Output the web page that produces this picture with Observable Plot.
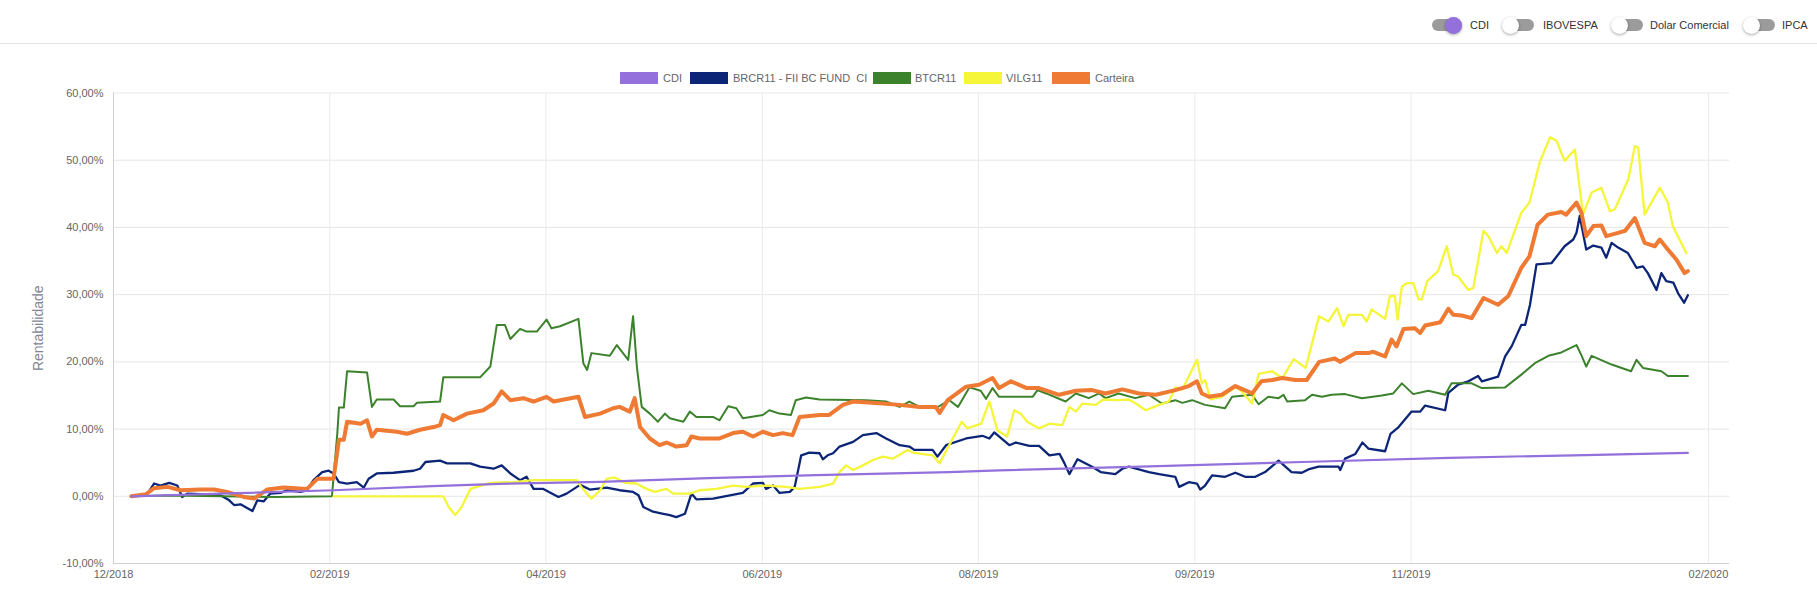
<!DOCTYPE html>
<html><head><meta charset="utf-8">
<script src="https://cdn.jsdelivr.net/npm/d3@7"></script>
<script src="https://cdn.jsdelivr.net/npm/@observablehq/plot@0.6"></script>
<style>
body{margin:0;background:#fff;font-family:"Liberation Sans",Arial,sans-serif;}
#wrap{position:relative;width:1817px;height:597px;overflow:hidden;}
#chart{position:absolute;left:0;top:0;}
.topbar{position:absolute;left:0;top:0;width:1817px;height:43px;border-bottom:1px solid #e4e4e4;}
.tg{position:absolute;top:19px;width:30px;height:12px;border-radius:6px;background:#9b9b9b;}
.knob{position:absolute;top:-2.5px;width:17px;height:17px;border-radius:50%;background:#fff;box-shadow:0 1px 3px rgba(0,0,0,0.35);}
.tl{position:absolute;top:19px;font-size:11px;line-height:12px;color:#333;}
.sw{position:absolute;top:72px;width:38px;height:12px;}
.lt{position:absolute;top:72px;font-size:11px;line-height:12px;color:#666;white-space:pre;}
</style>
</head><body>
<div id="wrap">
  <div id="chart"></div>
  <div class="topbar">
    <div class="tg" style="left:1432px"><div class="knob" style="left:12.5px;background:#9370db"></div></div>
    <div class="tl" style="left:1470px">CDI</div>
    <div class="tg" style="left:1504px"><div class="knob" style="left:-2px"></div></div>
    <div class="tl" style="left:1543px">IBOVESPA</div>
    <div class="tg" style="left:1613px"><div class="knob" style="left:-2px"></div></div>
    <div class="tl" style="left:1650px">Dolar Comercial</div>
    <div class="tg" style="left:1745px"><div class="knob" style="left:-2px"></div></div>
    <div class="tl" style="left:1782px">IPCA</div>
  </div>
  <div id="legend"></div>
</div>
<script>
// x = trading-day index, y = rentabilidade (%)
const cdi = [[3.3,0],[20,0.4],[40.7,0.9],[59,1.5],[71.5,1.85],[90,2.15],[110,2.7],[130,3.15],[154.6,3.6],[163.8,3.85],[190,4.4],[220,5.1],[247,5.72],[270,6.1],[291.2,6.45]];
const brcr11 = [[3.3,0],[6.3,0.4],[7.5,1.9],[8.7,1.6],[10.3,2.0],[11.8,1.6],[12.7,-0.1],[13.7,0.4],[16.1,0.3],[19.8,0.15],[21.4,-0.6],[22.3,-1.3],[23.5,-1.2],[25.7,-2.2],[26.6,-0.6],[27.8,-0.75],[29,0.4],[30.9,0.5],[32.1,0.9],[34.6,0.65],[35.8,0.9],[37,2.4],[38.6,3.6],[39.8,3.8],[40.7,3.4],[41.7,2.1],[43.2,1.9],[45,2.1],[46.3,1.3],[47.2,2.6],[48.7,3.4],[51.8,3.5],[55.5,3.8],[56.7,4.1],[57.7,5.1],[60.4,5.3],[61.7,4.9],[66,4.9],[67.8,4.4],[70.3,4.1],[71.8,4.6],[73.4,3.4],[75.2,2.4],[76.4,2.9],[77.7,1.1],[79.5,1.1],[82.3,-0.1],[83.8,0.4],[86.3,1.7],[88.1,1.0],[91.2,1.3],[93.6,0.9],[96.1,0.65],[97.1,0.15],[98,-1.6],[99.8,-2.3],[101.7,-2.6],[102.9,-2.8],[104.1,-3.1],[105.7,-2.6],[106.9,0.4],[107.8,-0.45],[110.9,-0.35],[114,0.15],[116.4,0.5],[118.3,1.9],[120.1,2.0],[120.7,1.1],[122,1.6],[123.2,0.5],[125.1,0.65],[126,1.4],[127.2,6.1],[128.7,6.5],[130.6,6.4],[131.2,5.5],[132.1,6.1],[133.1,6.4],[134.3,7.4],[136.8,8.1],[138.6,9.1],[141.1,9.4],[142.9,8.6],[145.4,7.6],[147.2,7.4],[148.1,6.9],[151.5,6.9],[152.4,5.9],[154,7.6],[157.7,8.6],[160.7,9.0],[162,8.6],[162.9,9.5],[165.7,7.6],[166.9,8.0],[169.4,7.5],[171.2,7.5],[173.1,6.1],[175,6.3],[175.9,4.9],[176.8,3.3],[178.3,5.5],[181,4.4],[182.6,3.6],[185.3,3.3],[186.6,4.1],[187.8,4.4],[191.5,3.6],[193.4,3.3],[196.4,2.9],[197.1,1.4],[198.9,2.1],[200.4,1.9],[201,1.0],[201.9,1.6],[203.2,3.1],[205.6,2.9],[207.5,3.5],[209.3,2.9],[211.2,2.9],[213,3.6],[215.5,5.3],[217.9,3.6],[219.8,3.5],[221,4.0],[222.9,4.4],[226.6,4.4],[226.9,3.9],[227.8,5.6],[229.7,6.3],[231,8.0],[232.1,7.1],[235.2,6.7],[236.2,9.3],[237.7,10.3],[240.1,12.6],[241.7,12.6],[242.6,13.5],[246.3,12.8],[246.9,15.4],[248.7,16.6],[250.6,17.1],[252.4,17.9],[253.1,17.1],[256.1,17.8],[257.4,20.8],[258.6,22.3],[260.4,25.5],[261.1,25.5],[262,28.5],[263.2,34.5],[266,34.7],[268.4,37.2],[270,38.2],[270.6,39.2],[271.2,41.7],[272.4,36.7],[273.7,37.3],[275.2,37.0],[276.1,35.5],[277.1,37.7],[278.3,37.0],[280.1,36.2],[281.7,34.0],[282.9,34.2],[283.8,33.2],[285.4,30.7],[286.3,33.2],[287.2,32.0],[288.5,31.8],[289.4,30.2],[290.5,28.8],[291.2,29.9]];
const btcr11 = [[3.3,0],[10,0.1],[20,0],[30,-0.1],[40.4,0],[41.4,9.4],[41.7,13.2],[42.6,13.2],[43.2,18.6],[46.9,18.4],[47.8,13.3],[48.7,14.4],[51.8,14.4],[53,13.4],[55.5,13.4],[56.1,13.9],[60.4,14.1],[61,17.7],[67.8,17.7],[69.7,19.3],[70.9,25.5],[72.4,25.5],[73.4,23.4],[75.2,24.9],[76.4,24.5],[78.3,24.5],[80.1,26.3],[81,25.0],[82.6,25.3],[86,26.4],[86.9,19.8],[87.6,18.8],[88.4,21.3],[91.8,20.9],[93.1,22.5],[95.2,20.3],[96.1,26.8],[96.8,19.3],[97.7,13.3],[99.2,12.3],[100.7,11.1],[102,12.3],[102.9,11.6],[105.4,11.1],[106.6,12.6],[107.8,11.8],[110.9,11.8],[112.1,11.3],[113.7,13.4],[115.2,13.1],[116.4,11.6],[120.1,12.1],[121.3,12.8],[123.2,12.3],[125.3,12.1],[126.2,14.3],[128.1,14.7],[130.6,14.4],[139.2,14.3],[142.9,14.1],[145.4,13.3],[147.2,14.1],[149.1,13.3],[152.1,13.1],[154.6,14.3],[156.2,13.3],[158.3,16.2],[160.4,15.7],[161.4,14.5],[162.6,16.1],[163.8,14.8],[170,14.8],[170.9,15.8],[172.5,15.3],[176.1,14.1],[178,15.3],[180.4,14.6],[182.3,15.3],[183.5,14.6],[185.9,15.3],[189,14.6],[191.5,15.1],[193.9,13.8],[196.4,14.3],[197.7,13.9],[199.5,14.3],[201.9,13.6],[205.6,13.1],[206.9,14.8],[210.6,15.1],[211.8,13.7],[213.6,14.8],[215.5,14.6],[216.4,15.1],[217.1,14.1],[220.4,14.3],[221.7,15.1],[223.5,14.8],[225.3,15.1],[227.8,15.2],[230.9,14.6],[234.6,15.0],[236.7,15.3],[238.3,16.8],[240.4,15.2],[243.2,15.7],[246.3,15.1],[247.5,16.8],[251.2,16.8],[253.1,16.1],[257.4,16.2],[260.4,18.1],[262.9,19.8],[265.4,20.9],[267.8,21.4],[270.6,22.5],[271.5,21.0],[272.4,19.3],[273.4,20.9],[277.1,19.6],[280.7,18.6],[281.7,20.3],[282.9,19.1],[286.3,18.6],[287.5,17.9],[291.2,17.9]];
const vilg11 = [[40.7,0],[61,0],[62,-1.6],[63.2,-2.8],[64.4,-1.6],[66,1.1],[69.7,2.0],[74,2.1],[77.7,2.4],[85.7,2.4],[86.6,1.3],[88.4,-0.35],[90,0.9],[91.2,2.6],[92.7,2.8],[94.6,2.0],[96.7,1.9],[98.6,1.1],[100.1,0.65],[102.3,1.1],[103.5,0.4],[106.6,0.4],[108.4,0.9],[111.5,1.1],[114.6,1.6],[117,1.4],[120.7,1.6],[124.4,1.4],[126.9,1.1],[130.6,1.4],[133.1,1.9],[134.3,3.6],[135.5,4.6],[136.8,3.9],[138.6,4.6],[140.5,5.4],[142.3,5.9],[144.1,5.6],[146.9,6.9],[147.8,6.5],[151.5,6.1],[152.8,4.9],[154.5,7.5],[156.9,11.1],[157.9,10.1],[160.5,10.8],[162,14.1],[163.5,9.8],[165.3,8.9],[166.6,12.8],[167.8,12.3],[169,11.1],[171.2,10.1],[173.1,10.8],[175.5,10.6],[176.8,13.3],[178,12.6],[179.2,13.8],[181.7,13.6],[183,14.4],[186,14.3],[187.8,14.4],[189.1,13.8],[190.9,12.8],[193.4,13.6],[195.2,14.1],[196.4,16.2],[197.7,15.9],[200.4,20.3],[201.3,16.8],[201.9,17.3],[202.9,14.4],[205,14.8],[207.5,16.3],[208.7,15.6],[210.6,13.8],[211.8,18.2],[214.3,18.6],[216.2,17.6],[218.3,20.4],[220.5,19.1],[223,26.8],[224.7,26.0],[226.3,28.0],[227.5,25.3],[228.4,27.0],[230.9,27.0],[231.8,26.0],[232.7,27.8],[235.2,26.4],[236.1,29.8],[237,29.8],[237.5,26.3],[238.3,31.2],[239.2,31.7],[240.4,31.7],[241.4,29.3],[242,29.3],[243,32.0],[245,33.5],[246.6,37.2],[247.8,33.0],[248.7,32.7],[250.6,30.7],[251.5,31.0],[253.4,39.5],[254.3,38.7],[255.9,36.2],[256.7,37.2],[257.7,36.2],[260.4,42.2],[261.9,43.7],[263.8,49.7],[265.7,53.4],[266.9,52.9],[268.4,49.9],[270.3,51.6],[271.8,41.9],[273.4,45.2],[275.2,45.9],[276.8,42.4],[277.7,42.7],[280.2,47.2],[281.4,52.1],[282,51.9],[283.2,41.9],[286,45.9],[287.5,43.7],[288.4,40.2],[290.9,36.2]];
const carteira = [[3.3,0],[6,0.3],[7.5,1.2],[10,1.4],[12.4,0.9],[16.1,1.0],[18.6,1.0],[21,0.65],[24.1,-0.1],[26,-0.35],[28.4,1.0],[31.5,1.3],[35.8,1.1],[37.7,2.6],[40.7,2.6],[41.7,8.4],[42.6,8.4],[43.2,11.1],[45.7,10.8],[46.9,11.3],[47.8,8.9],[48.7,9.9],[52.4,9.6],[54.3,9.3],[56.7,9.9],[59.2,10.3],[60.4,10.6],[61,12.1],[62.9,11.3],[65.4,12.3],[68.4,12.8],[70.3,13.8],[71.8,15.6],[73.4,14.3],[75.8,14.6],[77.7,14.1],[80.1,14.8],[81.4,14.1],[86,14.8],[87.2,11.8],[90,12.3],[92.4,13.1],[93.6,13.3],[95.5,12.6],[96.4,14.6],[97.4,10.3],[99.2,8.6],[101,7.6],[102.3,8.0],[104.1,7.4],[106,7.6],[106.9,8.9],[108.4,8.6],[112.1,8.6],[114.6,9.4],[116.4,9.6],[118.3,8.9],[120.1,9.6],[122,9.1],[123.8,9.4],[125.6,9.1],[126.9,11.8],[130.6,12.1],[132.4,12.1],[134.9,13.6],[136.8,14.1],[142.3,13.8],[145.4,13.6],[149.1,13.3],[152.1,13.3],[152.8,12.4],[154.3,14.3],[157.7,16.3],[160.1,16.6],[162.6,17.6],[163.8,16.1],[166,17.1],[168.9,16.1],[171.2,16.1],[174.9,15.1],[178,15.7],[181,15.8],[183.5,15.3],[186.6,15.9],[189.7,15.3],[192.8,15.1],[196.4,15.8],[198.9,16.4],[200.4,17.1],[201.3,15.3],[202.6,14.8],[205,15.1],[207.5,16.4],[210.6,15.3],[212.3,17.1],[214.3,17.3],[216.2,17.6],[218.6,17.3],[220.7,17.3],[223,20.0],[224.7,20.3],[225.9,20.5],[226.9,20.0],[229.7,21.3],[232.1,21.3],[233,21.5],[235.2,20.8],[236.4,23.3],[237.3,22.3],[238.6,24.9],[240.7,25.0],[241.7,24.3],[242.6,25.4],[245.4,25.9],[246.9,27.9],[247.8,27.0],[249.4,26.9],[251.2,26.5],[253.4,29.5],[256.1,28.5],[258,29.8],[260.4,34.0],[261.9,35.7],[263.4,40.4],[265.3,41.9],[267.8,42.3],[268.7,41.9],[270.6,43.7],[271.5,42.2],[272.4,38.7],[273.7,40.2],[275.2,40.3],[276.1,38.7],[278.3,39.2],[279.6,39.5],[281.4,41.4],[283.2,37.7],[285.1,37.2],[286,38.2],[287.2,37.0],[289.1,35.2],[290.6,33.2],[291.2,33.5]];

const seriesNames = ["CDI","BRCR11 - FII BC FUND  CI","BTCR11","VILG11","Carteira"];
const seriesColors = ["#9370db","#0c2577","#3c822c","#f5f53a","#ee7a33"];
const xTickPos = [0,40,80,120,160,200,240,295];
const xTickLabels = ["12/2018","02/2019","04/2019","06/2019","08/2019","09/2019","11/2019","02/2020"];
const yTicks = [-10,0,10,20,30,40,50,60];
const toggles = ["CDI","IBOVESPA","Dolar Comercial","IPCA"];

const allSeries = [cdi, brcr11, btcr11, vilg11, carteira];
const rows = allSeries.map((s, i) => s.map(([x, y]) => ({serie: seriesNames[i], x, y})));
const widths = [2.2, 2.3, 2, 2.3, 4];

function lineMark(i) {
  return Plot.line(rows[i], {x: "x", y: "y", stroke: seriesColors[i], strokeWidth: widths[i], strokeLinejoin: "round", strokeLinecap: "round"});
}

const chart = Plot.plot({
  width: 1817, height: 597,
  marginTop: 92.5, marginBottom: 34, marginLeft: 113, marginRight: 88,
  x: {domain: [0, 298.9]},
  y: {domain: [-10, 60]},
  style: {fontFamily: "'Liberation Sans', Arial, sans-serif", fontSize: "11px", color: "#666", background: "transparent"},
  marks: [
    Plot.gridY(yTicks, {stroke: "#e6e6e6", strokeOpacity: 1}),
    Plot.gridX(xTickPos, {stroke: "#ebebeb", strokeOpacity: 1}),
    Plot.ruleY([-10], {stroke: "#d0d0d0"}),
    Plot.ruleX([0], {stroke: "#cfcfcf"}),
    Plot.axisY(yTicks, {tickSize: 0, tickPadding: 10, label: null, fill: "#666",
      tickFormat: d => d.toFixed(2).replace(".", ",") + "%"}),
    Plot.axisX(xTickPos, {tickSize: 0, tickPadding: 7, label: null, fill: "#666",
      tickFormat: (d) => xTickLabels[xTickPos.indexOf(d)]}),
    Plot.text(["Rentabilidade"], {frameAnchor: "left", textAnchor: "middle", dx: -75, rotate: -90, fontSize: 14, fill: "#808694"}),
    lineMark(1), lineMark(2), lineMark(3), lineMark(4), lineMark(0)
  ]
});
document.getElementById("chart").appendChild(chart);

// legend
const legendPos = [[620,663],[690,733],[873,915],[964,1006],[1052,1095]];
const leg = document.getElementById("legend");
seriesNames.forEach((n, i) => {
  const sw = document.createElement("div");
  sw.className = "sw"; sw.style.left = legendPos[i][0] + "px"; sw.style.background = seriesColors[i];
  const t = document.createElement("div");
  t.className = "lt"; t.style.left = legendPos[i][1] + "px"; t.textContent = n;
  leg.appendChild(sw); leg.appendChild(t);
});
</script>
</body></html>
